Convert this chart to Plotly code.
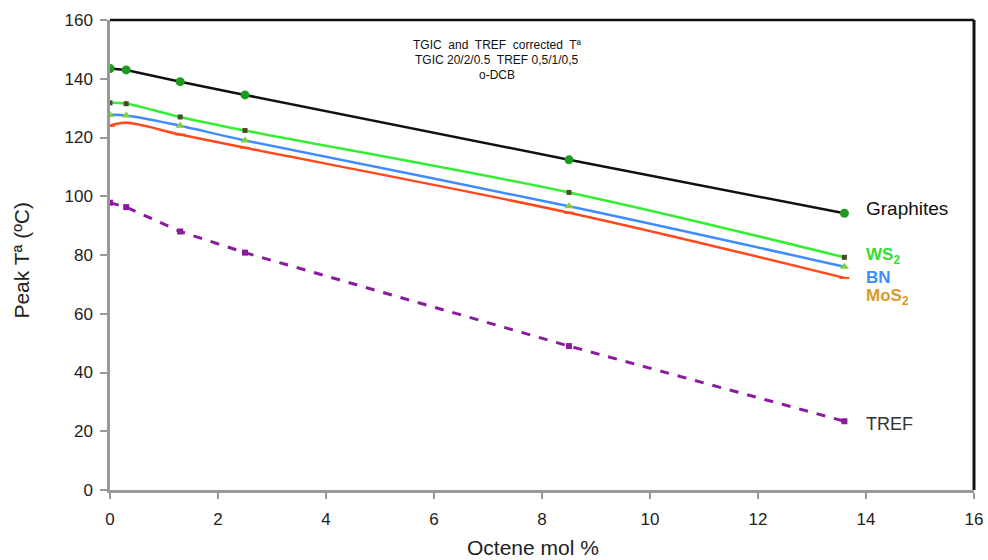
import plotly.graph_objects as go

x_vals = [0, 0.3, 1.3, 2.5, 8.5, 13.6]
graphites = [143.5, 143.0, 139.0, 134.5, 112.4, 94.2]
ws2 = [131.8, 131.5, 127.0, 122.4, 101.3, 79.2]
bn = [127.7, 127.5, 124.0, 119.0, 96.6, 76.0]
mos2 = [124.0, 125.0, 121.0, 116.5, 94.4, 72.2]
tref = [97.8, 96.3, 88.0, 80.8, 49.0, 23.4]

x_ticks = list(range(0, 17, 2))
y_ticks = list(range(0, 161, 20))

fig = go.Figure()

fig.add_trace(go.Scatter(x=x_vals, y=tref, mode="lines+markers",
                         line=dict(color="#8a1a9e", width=3, dash="dash"),
                         marker=dict(symbol="square", size=6, color="#8a1a9e")))
fig.add_trace(go.Scatter(x=x_vals, y=mos2, mode="lines+markers", line_shape="spline",
                         line=dict(color="#ff4a1c", width=2.5),
                         marker=dict(symbol="line-ew", size=7, color="#ff4a1c",
                                     line=dict(color="#ff4a1c", width=2))))
fig.add_trace(go.Scatter(x=x_vals, y=bn, mode="lines+markers", line_shape="spline",
                         line=dict(color="#3f8cff", width=2.5),
                         marker=dict(symbol="triangle-up", size=8, color="#7fd23a")))
fig.add_trace(go.Scatter(x=x_vals, y=ws2, mode="lines+markers", line_shape="spline",
                         line=dict(color="#33ee33", width=2.5),
                         marker=dict(symbol="square", size=5, color="#4a4a2a")))
fig.add_trace(go.Scatter(x=x_vals, y=graphites, mode="lines+markers",
                         line=dict(color="#111111", width=2.5),
                         marker=dict(symbol="circle", size=9, color="#1f9a1f")))

font_family = "Liberation Sans, Arial, sans-serif"

annots = [
    (151.5, "TGIC  and  TREF  corrected  Tª"),
    (146.4, "TGIC 20/2/0.5  TREF 0,5/1/0,5"),
    (141.3, "o-DCB"),
]
for ay, at in annots:
    fig.add_annotation(x=7.17, y=ay, text=at, showarrow=False,
                       font=dict(family=font_family, size=12, color="#111"),
                       xanchor="center", yanchor="middle")

labels = [
    (13.97, 96.0, "Graphites", "#111111", False, 19),
    (13.97, 79.7, "WS<sub>2</sub>", "#33dd33", True, 17),
    (13.97, 72.5, "BN", "#3f8cff", True, 17),
    (13.97, 65.7, "MoS<sub>2</sub>", "#d99a2a", True, 17),
    (13.97, 22.5, "TREF", "#333333", False, 18),
]
for lx, ly, lt, lc, bold, sz in labels:
    txt = f"<b>{lt}</b>" if bold else lt
    fig.add_annotation(x=lx, y=ly, text=txt, showarrow=False,
                       font=dict(family=font_family, size=sz, color=lc),
                       xanchor="left", yanchor="middle")

# axis titles
fig.add_annotation(xref="paper", yref="paper", x=0.49, y=-0.123, text="Octene mol %",
                   showarrow=False, font=dict(family=font_family, size=21, color="#222"),
                   xanchor="center", yanchor="middle")
fig.add_annotation(xref="paper", yref="paper", x=-0.102, y=0.49, text="Peak Tª (ºC)",
                   showarrow=False, textangle=-90,
                   font=dict(family=font_family, size=21, color="#222"),
                   xanchor="center", yanchor="middle")

# top and right frame in black
fig.add_shape(type="line", xref="paper", yref="paper", x0=0, x1=1, y0=1, y1=1,
              line=dict(color="#111111", width=2.5))
fig.add_shape(type="line", xref="paper", yref="paper", x0=1, x1=1, y0=0, y1=1,
              line=dict(color="#111111", width=3))

fig.update_layout(
    width=988, height=560,
    margin=dict(l=110, r=14, t=20, b=70),
    plot_bgcolor="white", paper_bgcolor="white",
    showlegend=False,
    font=dict(family=font_family, size=16, color="#222"),
    xaxis=dict(range=[0, 16], tickvals=x_ticks, showgrid=False, zeroline=False,
               automargin=False,
               showline=True, linecolor="#999999", linewidth=2.5,
               ticks="outside", ticklen=6, tickcolor="#999999", tickwidth=1.5,
               ticklabelstandoff=6,
               tickfont=dict(size=17, color="#222")),
    yaxis=dict(range=[0, 160], tickvals=y_ticks, showgrid=False, zeroline=False,
               automargin=False,
               showline=True, linecolor="#999999", linewidth=2.5,
               ticks="outside", ticklen=7, tickcolor="#999999", tickwidth=1.5,
               ticklabelstandoff=4,
               tickfont=dict(size=17, color="#222")),
)

fig.write_html("out.html")
